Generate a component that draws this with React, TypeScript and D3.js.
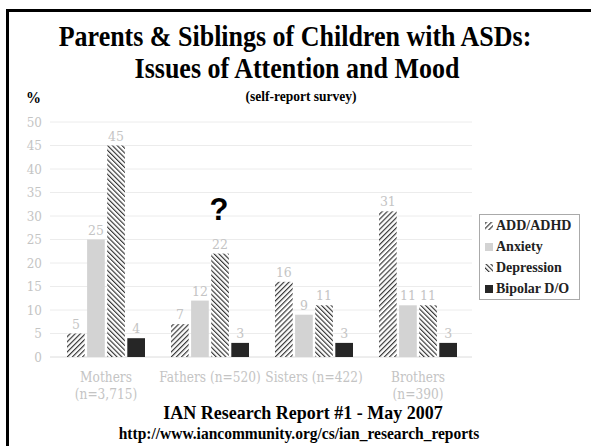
import React from "react";
import * as d3 from "d3";

const categories = ["Mothers (n=3,715)", "Fathers (n=520)", "Sisters (n=422)", "Brothers (n=390)"];
const categoryLines = [["Mothers", "(n=3,715)"], ["Fathers (n=520)"], ["Sisters (n=422)"], ["Brothers", "(n=390)"]];
const seriesNames = ["ADD/ADHD", "Anxiety", "Depression", "Bipolar D/O"];
const addValues = [5, 7, 16, 31];
const anxietyValues = [25, 12, 9, 11];
const depressionValues = [45, 22, 11, 11];
const bipolarValues = [4, 3, 3, 3];
const yTicks = [0, 5, 10, 15, 20, 25, 30, 35, 40, 45, 50];

const seriesValues = [addValues, anxietyValues, depressionValues, bipolarValues];
const fills = ["url(#hatchA)", "#d3d3d3", "url(#hatchB)", "#262626"];

export default function App() {
  const W = 591, H = 446;
  const x0 = d3.scaleBand<string>().domain(categories).range([54, 470]).paddingInner(0.25).paddingOuter(0.125);
  const x1 = d3.scaleBand<string>().domain(seriesNames).range([0, x0.bandwidth()]).paddingInner(0.12);
  const y = d3.scaleLinear().domain([0, 50]).range([357, 122]);
  const serif = "'Liberation Serif', 'Times New Roman', serif";
  const slab = "'DejaVu Serif', serif";
  const gray = "#c4c4c4";

  return (
    <svg width={W} height={H} style={{ position: "absolute", left: 0, top: 0, background: "#fff" }}>
      <defs>
        <pattern id="hatchA" patternUnits="userSpaceOnUse" width="3.6" height="3.6" patternTransform="rotate(45)">
          <rect width="3.6" height="3.6" fill="#ffffff" />
          <line x1="0" y1="0" x2="0" y2="3.6" stroke="#3a3a3a" strokeWidth="2.4" />
        </pattern>
        <pattern id="hatchB" patternUnits="userSpaceOnUse" width="3.4" height="3.4" patternTransform="rotate(-45)">
          <rect width="3.4" height="3.4" fill="#ffffff" />
          <line x1="0" y1="0" x2="0" y2="3.4" stroke="#333" strokeWidth="2.3" />
        </pattern>
      </defs>
      <rect x={0} y={0} width={W} height={H} fill="#fff" />
      <rect x={7.5} y={10.5} width={W + 20} height={H + 20} fill="none" stroke="#000" strokeWidth={3} />

      <text transform="translate(295,46) scale(1,1.15)" textAnchor="middle" fontFamily={serif} fontWeight="bold" fontSize={26}>Parents &amp; Siblings of Children with ASDs:</text>
      <text transform="translate(297,78) scale(1,1.15)" textAnchor="middle" fontFamily={serif} fontWeight="bold" fontSize={26}>Issues of Attention and Mood</text>
      <text transform="translate(301,101) scale(1,1.1)" textAnchor="middle" fontFamily={serif} fontWeight="bold" fontSize={13.5}>(self-report survey)</text>
      <text transform="translate(26,103) scale(1,1.1)" fontFamily={serif} fontWeight="bold" fontSize={15}>%</text>

      {yTicks.map((t) => (
        <g key={t}>
          <line x1={50} x2={472} y1={y(t)} y2={y(t)} stroke={t === 0 ? "#dcdcdc" : "#ececec"} strokeWidth={1} />
          <text transform={`translate(42,${y(t) + 4.5}) scale(1,1.1)`} textAnchor="end" fontFamily={slab} fontSize={12} fill={gray}>{t}</text>
        </g>
      ))}

      {categories.map((c, ci) => (
        <g key={c} transform={`translate(${x0(c)},0)`}>
          {seriesNames.map((s, si) => {
            const v = seriesValues[si][ci];
            const bx = x1(s) as number;
            return (
              <g key={s}>
                <rect x={bx} y={y(v)} width={x1.bandwidth()} height={y(0) - y(v)} fill={fills[si]} />
                <text transform={`translate(${bx + x1.bandwidth() / 2},${y(v) - 5}) scale(1,1.1)`} textAnchor="middle" fontFamily={slab} fontSize={12.5} fill={gray}>{v}</text>
              </g>
            );
          })}
          {categoryLines[ci].map((ln, li) => (
            <text key={li} transform={`translate(${x0.bandwidth() / 2},${382 + li * 17}) scale(1,1.15)`} textAnchor="middle" fontFamily={slab} fontSize={12.2} fill={gray}>{ln}</text>
          ))}
        </g>
      ))}

      <text x={219} y={220} textAnchor="middle" fontFamily="'Liberation Sans', Arial, sans-serif" fontWeight="bold" fontSize={31}>?</text>

      <rect x={479.5} y={214.5} width={100} height={85} fill="#fff" stroke="#aaa" strokeWidth={1} />
      {seriesNames.map((s, i) => (
        <g key={s}>
          <rect x={485} y={222 + i * 21} width={8} height={8} fill={fills[i]} />
          <text transform={`translate(496,${230 + i * 21}) scale(1,1.1)`} fontFamily={serif} fontWeight="bold" fontSize={14} fill="#222">{s}</text>
        </g>
      ))}

      <text transform="translate(303,419) scale(1,1.1)" textAnchor="middle" fontFamily={serif} fontWeight="bold" fontSize={18}>IAN Research Report #1 - May 2007</text>
      <text transform="translate(299,439) scale(1,1.1)" textAnchor="middle" fontFamily={serif} fontWeight="bold" fontSize={15.5}>http://www.iancommunity.org/cs/ian_research_reports</text>
    </svg>
  );
}
